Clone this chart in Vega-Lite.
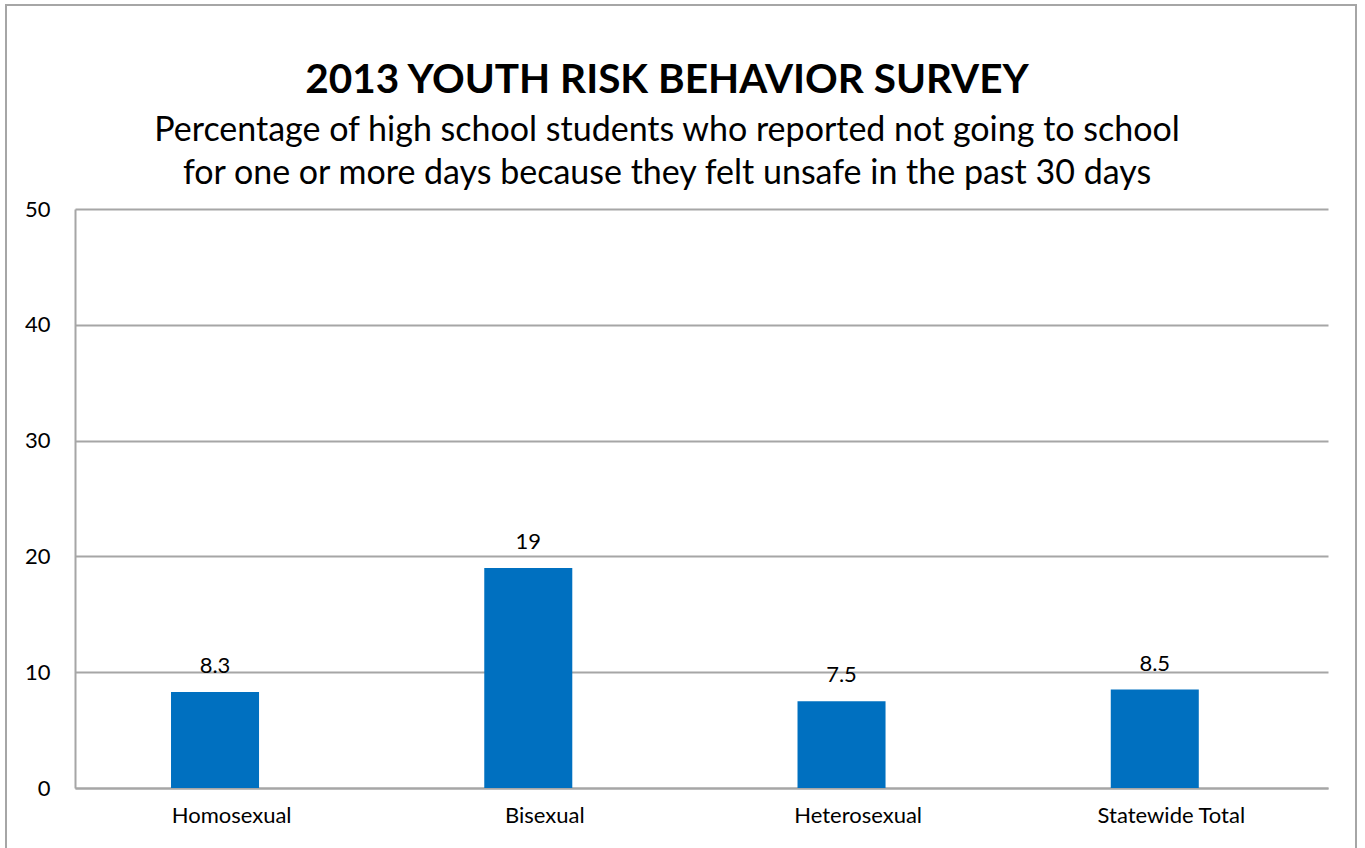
{
  "$schema": "https://vega.github.io/schema/vega-lite/v6.json",
  "width": 1350,
  "height": 846,
  "padding": {"left": 6, "top": 5, "right": 6, "bottom": 0},
  "autosize": {"type": "pad"},
  "background": "white",
  "config": {
    "font": "Lato",
    "view": {"stroke": "#a6a6a6", "strokeWidth": 2}
  },
  "title": {
    "text": "2013 YOUTH RISK BEHAVIOR SURVEY",
    "subtitle": [
      "Percentage of high school students who reported not going to school",
      "for one or more days because they felt unsafe in the past 30 days"
    ],
    "anchor": "middle",
    "frame": "group",
    "offset": -186,
    "dx": -14,
    "font": "Lato",
    "fontSize": 40.5,
    "fontWeight": "bold",
    "color": "#000000",
    "subtitleFont": "Lato",
    "subtitleFontSize": 34,
    "subtitleColor": "#000000",
    "subtitleLineHeight": 43,
    "subtitlePadding": 13
  },
  "data": {
    "values": [
      {"group": "Homosexual", "pct": 8.3},
      {"group": "Bisexual", "pct": 19},
      {"group": "Heterosexual", "pct": 7.5},
      {"group": "Statewide Total", "pct": 8.5}
    ]
  },
  "encoding": {
    "x": {
      "field": "group",
      "type": "nominal",
      "sort": null,
      "scale": {"range": [69, 1322], "paddingInner": 0, "paddingOuter": 0},
      "axis": {
        "title": null,
        "orient": "bottom",
        "offset": -63,
        "labelAngle": 0,
        "domainColor": "#a6a6a6",
        "domainWidth": 2,
        "ticks": false,
        "grid": false,
        "labelFontSize": 22,
        "labelColor": "#000000",
        "labelPadding": 17
      }
    },
    "y": {
      "field": "pct",
      "type": "quantitative",
      "scale": {"domain": [0, 50], "range": [783, 204], "nice": false},
      "axis": {
        "title": null,
        "offset": -69,
        "values": [0, 10, 20, 30, 40, 50],
        "grid": true,
        "gridColor": "#a6a6a6",
        "gridWidth": 2,
        "domainColor": "#a6a6a6",
        "domainWidth": 2,
        "ticks": false,
        "labelFontSize": 22,
        "labelColor": "#000000",
        "labelPadding": 25
      }
    }
  },
  "layer": [
    {
      "mark": {"type": "bar", "color": "#0070C0", "width": {"band": 0.281}, "xOffset": -16.6}
    },
    {
      "mark": {"type": "text", "dx": -16.6, "dy": -19, "baseline": "alphabetic", "fontSize": 22, "color": "#000000"},
      "encoding": {"text": {"field": "pct", "type": "quantitative"}}
    }
  ]
}
